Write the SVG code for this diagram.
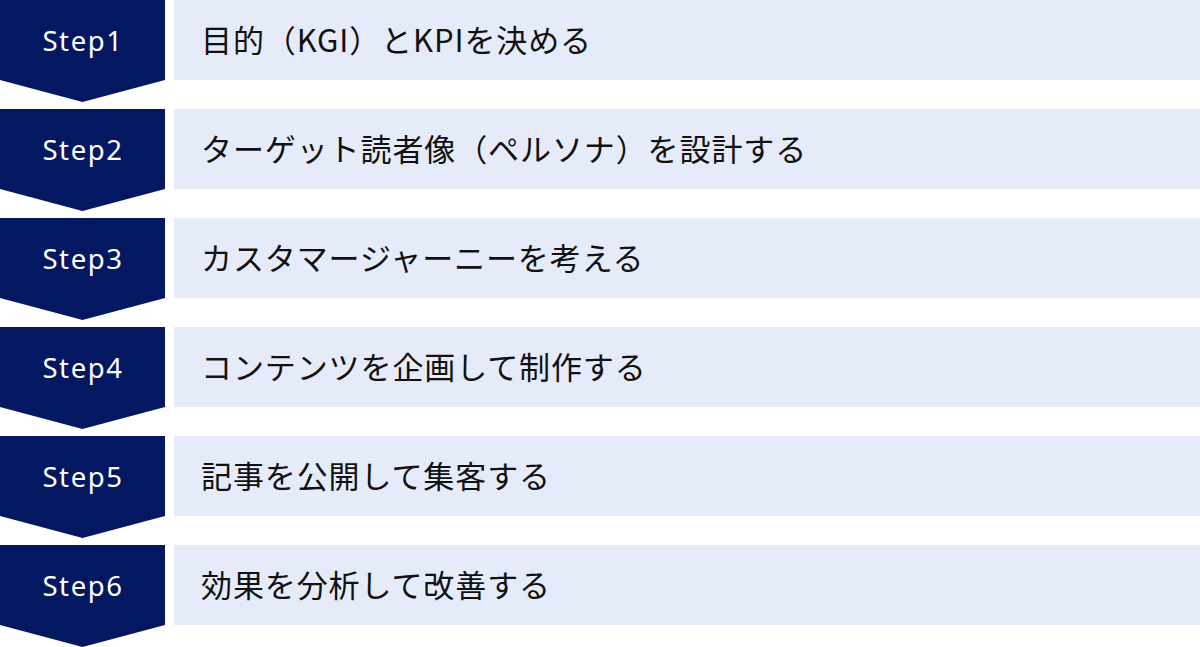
<svg xmlns="http://www.w3.org/2000/svg" width="1200" height="647" viewBox="0 0 1200 647">
<style>
.chev{fill:#041862}
.box{fill:#E5EBF8}
.step{font-family:"Noto Sans","Noto Sans CJK JP",sans-serif;font-size:27.5px;fill:#ffffff;text-anchor:middle;letter-spacing:1.6px}
.lbl{font-family:"Noto Sans CJK JP","Noto Sans",sans-serif;font-size:31px;fill:#111111;letter-spacing:0.9px}
</style>
<rect width="1200" height="647" fill="#ffffff"/>
<g id="connectors"></g>
<g id="step1"><polygon class="chev" points="0,0 165,0 165,80 82.5,102 0,80"/><rect class="box" x="174" y="0" width="1026" height="80"/><text class="step" x="83" y="51">Step1</text><text class="lbl" x="201" y="51.5">目的（KGI）とKPIを決める</text></g>
<g id="step2"><polygon class="chev" points="0,109 165,109 165,189 82.5,211 0,189"/><rect class="box" x="174" y="109" width="1026" height="80"/><text class="step" x="83" y="160">Step2</text><text class="lbl" x="201" y="160.5">ターゲット読者像（ペルソナ）を設計する</text></g>
<g id="step3"><polygon class="chev" points="0,218 165,218 165,298 82.5,320 0,298"/><rect class="box" x="174" y="218" width="1026" height="80"/><text class="step" x="83" y="269">Step3</text><text class="lbl" x="201" y="269.5">カスタマージャーニーを考える</text></g>
<g id="step4"><polygon class="chev" points="0,327 165,327 165,407 82.5,429 0,407"/><rect class="box" x="174" y="327" width="1026" height="80"/><text class="step" x="83" y="378">Step4</text><text class="lbl" x="201" y="378.5">コンテンツを企画して制作する</text></g>
<g id="step5"><polygon class="chev" points="0,436 165,436 165,516 82.5,538 0,516"/><rect class="box" x="174" y="436" width="1026" height="80"/><text class="step" x="83" y="487">Step5</text><text class="lbl" x="201" y="487.5">記事を公開して集客する</text></g>
<g id="step6"><polygon class="chev" points="0,545 165,545 165,625 82.5,647 0,625"/><rect class="box" x="174" y="545" width="1026" height="80"/><text class="step" x="83" y="596">Step6</text><text class="lbl" x="201" y="596.5">効果を分析して改善する</text></g>
</svg>
